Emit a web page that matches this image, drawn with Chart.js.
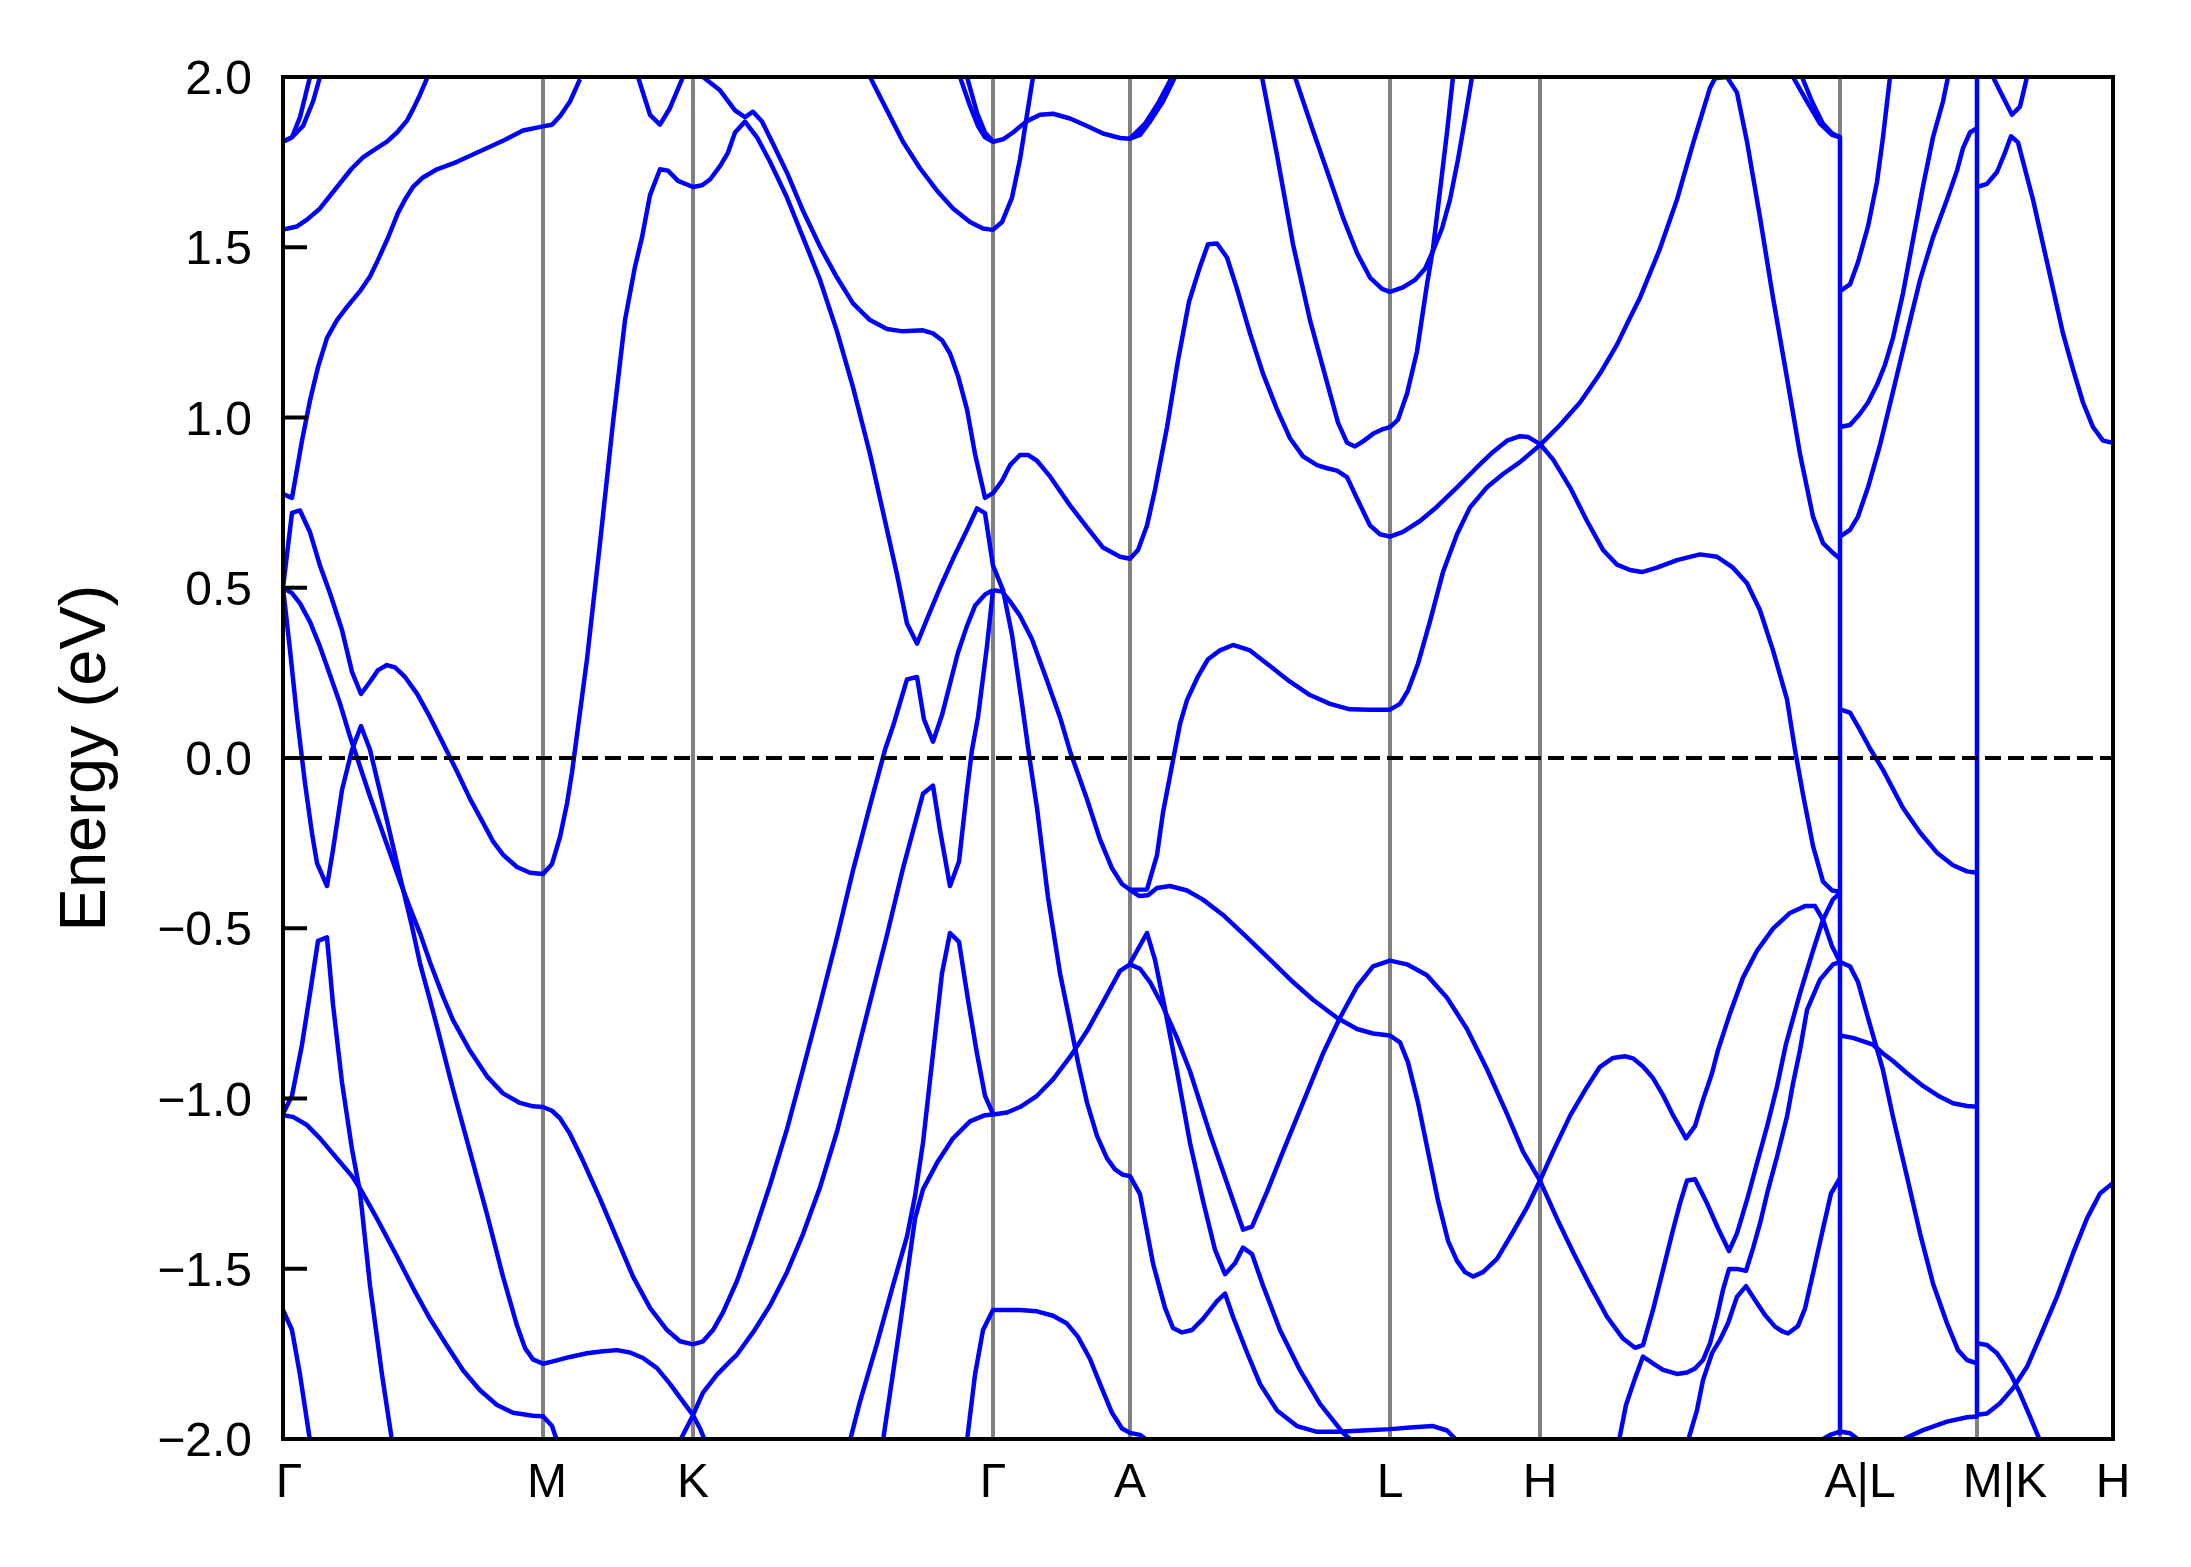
<!DOCTYPE html>
<html lang="en">
<head>
<meta charset="UTF-8">
<title>Band structure</title>
<style>
  html, body { margin: 0; padding: 0; background: #fff; }
  #wrap { width: 2191px; height: 1567px; }
</style>
<script src="https://cdn.jsdelivr.net/npm/chart.js"></script>
</head>
<body>
<div id="wrap"><canvas id="bands" width="2191" height="1567"></canvas></div>
<script>
// high-symmetry points along the k-path (path distance, arbitrary units)
const kTicks = [0, 260, 410, 710, 847, 1107, 1257, 1557, 1694, 1830];
const kLabels = ['Γ', 'M', 'K', 'Γ', 'A', 'L', 'H', 'A|L', 'M|K', 'H'];
const eTicks = [-2, -1.5, -1, -0.5, 0, 0.5, 1, 1.5, 2];

// bands, [k, E (eV)], grouped by the segment they start in
const bandsGM = [
  [[0,1.81],[9,1.823],[17,1.882],[27,2.0]],
  [[0,1.81],[9,1.823],[20,1.856],[30,1.928],[37,2.0]],
  [[0,1.552],[14,1.561],[24,1.581],[37,1.614],[54,1.677],[69,1.732],[80,1.764],[90,1.784],[104,1.81],[114,1.837],[124,1.872],[130,1.905],[137,1.948],[144,1.996]],
  [[0,0.775],[9,0.764],[19,0.932],[27,1.05],[35,1.148],[44,1.234],[54,1.286],[64,1.325],[77,1.371],[87,1.414],[95,1.463],[105,1.528],[115,1.601],[122,1.64],[130,1.677],[140,1.705],[154,1.729],[174,1.751],[197,1.782],[220,1.813],[240,1.843],[260,1.855],[269,1.86],[277,1.885],[287,1.928],[297,1.994]],
  [[0,0.5],[9,0.72],[17,0.727],[27,0.663],[37,0.565],[47,0.484],[59,0.376],[69,0.253],[78,0.188],[87,0.224],[95,0.258],[104,0.273],[112,0.266],[122,0.238],[134,0.189],[147,0.12],[160,0.043],[174,-0.04],[187,-0.12],[200,-0.19],[210,-0.245],[220,-0.284],[234,-0.32],[247,-0.337],[260,-0.341],[269,-0.311],[277,-0.232],[284,-0.134],[289,-0.042],[292,0.024],[304,0.29],[317,0.631],[330,0.985],[342,1.286],[352,1.443],[359,1.529],[367,1.653],[377,1.729],[385,1.725],[395,1.695],[410,1.677],[419,1.682],[427,1.699],[437,1.738],[445,1.778],[452,1.837],[462,1.869],[474,1.823],[487,1.751],[504,1.646],[520,1.529],[537,1.404],[554,1.253],[570,1.089],[587,0.893],[604,0.67],[614,0.539],[624,0.395],[634,0.336],[644,0.408],[657,0.5],[670,0.585],[684,0.67],[694,0.733],[702,0.719],[710,0.565],[720,0.493],[729,0.362],[739,0.159],[747,-0.01],[754,-0.147],[765,-0.409],[777,-0.632],[787,-0.776],[795,-0.894],[804,-1.012],[814,-1.11],[824,-1.176],[832,-1.208],[840,-1.224],[847,-1.228],[857,-1.281],[870,-1.484],[882,-1.615],[890,-1.674],[899,-1.687],[909,-1.68],[920,-1.647],[934,-1.595],[942,-1.573],[950,-1.641],[964,-1.746],[977,-1.838],[994,-1.916],[1014,-1.962],[1034,-1.979],[1054,-1.979],[1080,-1.975],[1107,-1.971],[1127,-1.966],[1150,-1.962],[1164,-1.975],[1174,-2.005]],
  [[0,0.5],[7,0.317],[14,0.121],[22,-0.074],[29,-0.221],[34,-0.309],[44,-0.376],[50,-0.27],[59,-0.094],[69,0.024],[78,0.094],[87,0.024],[95,-0.074],[107,-0.221],[117,-0.348],[129,-0.495],[137,-0.603],[147,-0.711],[154,-0.789],[170,-0.973],[187,-1.156],[204,-1.34],[220,-1.523],[234,-1.667],[242,-1.733],[250,-1.766],[260,-1.779],[270,-1.772],[287,-1.759],[304,-1.748],[320,-1.742],[334,-1.739],[347,-1.746],[360,-1.762],[374,-1.792],[387,-1.838],[400,-1.89],[410,-1.93],[417,-1.969],[422,-2.005]],
  [[0,0.5],[9,0.484],[17,0.454],[27,0.4],[37,0.327],[47,0.244],[57,0.16],[67,0.063],[77,-0.025],[87,-0.113],[97,-0.197],[107,-0.28],[117,-0.363],[127,-0.441],[137,-0.515],[147,-0.6],[160,-0.7],[170,-0.77],[187,-0.86],[204,-0.935],[220,-0.985],[237,-1.013],[250,-1.023],[260,-1.025],[269,-1.036],[277,-1.058],[287,-1.104],[300,-1.183],[317,-1.294],[334,-1.412],[350,-1.523],[367,-1.615],[384,-1.68],[397,-1.713],[410,-1.722],[420,-1.713],[430,-1.68],[440,-1.628],[454,-1.536],[470,-1.405],[487,-1.254],[504,-1.09],[520,-0.914],[537,-0.724],[554,-0.527],[570,-0.33],[587,-0.14],[602,0.024],[610,0.093],[624,0.231],[634,0.238],[641,0.113],[650,0.048],[659,0.126],[667,0.218],[675,0.31],[684,0.388],[692,0.447],[702,0.48],[710,0.493]],
  [[0,-1.045],[9,-0.992],[19,-0.842],[27,-0.691],[35,-0.537],[44,-0.527],[50,-0.724],[59,-0.953],[69,-1.149],[77,-1.274],[87,-1.549],[99,-1.811],[109,-2.005]],
  [[0,-1.049],[10,-1.054],[24,-1.078],[37,-1.117],[54,-1.176],[69,-1.228],[79,-1.274],[94,-1.353],[114,-1.464],[130,-1.556],[147,-1.647],[164,-1.726],[180,-1.798],[197,-1.857],[214,-1.9],[230,-1.923],[250,-1.932],[260,-1.933],[269,-1.962],[274,-2.005]],
  [[0,-1.621],[9,-1.68],[17,-1.811],[27,-2.005]]
];

const bandsKG = [
  [[397,-2.005],[410,-1.93],[420,-1.864],[434,-1.811],[447,-1.772],[454,-1.752],[470,-1.687],[487,-1.608],[504,-1.51],[520,-1.398],[537,-1.261],[554,-1.097],[570,-0.914],[587,-0.717],[604,-0.52],[620,-0.324],[640,-0.105],[650,-0.081],[657,-0.212],[667,-0.376],[676,-0.304],[684,-0.094],[689,0.024],[695,0.12],[704,0.329],[710,0.493]],
  [[355,2.0],[367,1.889],[377,1.86],[387,1.909],[400,2.0]],
  [[420,2.0],[437,1.961],[452,1.902],[462,1.882],[470,1.898],[479,1.869],[490,1.804],[504,1.719],[520,1.607],[537,1.502],[554,1.411],[570,1.335],[587,1.286],[604,1.26],[620,1.253],[640,1.256],[650,1.247],[659,1.227],[667,1.188],[675,1.122],[684,1.024],[692,0.893],[702,0.764],[710,0.778],[719,0.814],[727,0.86],[737,0.89],[745,0.89],[754,0.873],[767,0.827],[787,0.742],[804,0.677],[820,0.618],[837,0.591],[847,0.585],[855,0.611],[864,0.683],[872,0.788],[884,0.971],[895,1.168],[906,1.34],[917,1.443],[925,1.509],[934,1.511],[944,1.47],[954,1.378],[967,1.247],[980,1.129],[994,1.024],[1007,0.939],[1020,0.886],[1034,0.86],[1044,0.851],[1054,0.844],[1064,0.825],[1074,0.762],[1087,0.683],[1097,0.657],[1107,0.65],[1120,0.664],[1137,0.696],[1154,0.738],[1174,0.795],[1194,0.854],[1210,0.899],[1224,0.932],[1237,0.945],[1245,0.943],[1257,0.922],[1270,0.877],[1287,0.795],[1304,0.696],[1320,0.611],[1334,0.568],[1347,0.552],[1359,0.546],[1374,0.559],[1394,0.581],[1417,0.598],[1434,0.591],[1450,0.559],[1464,0.513],[1477,0.434],[1490,0.316],[1504,0.172],[1512,0.024],[1520,-0.107],[1530,-0.258],[1540,-0.363],[1549,-0.389],[1557,-0.393]],
  [[567,-2.005],[577,-1.89],[594,-1.72],[610,-1.549],[624,-1.405],[632,-1.287],[640,-1.13],[650,-0.868],[659,-0.632],[667,-0.514],[676,-0.54],[685,-0.71],[694,-0.868],[702,-0.992],[710,-1.045]],
  [[600,-2.005],[617,-1.667],[632,-1.353],[640,-1.267],[654,-1.189],[670,-1.117],[687,-1.067],[702,-1.049],[710,-1.047],[724,-1.041],[737,-1.025],[754,-0.992],[770,-0.944],[787,-0.878],[804,-0.802],[820,-0.717],[837,-0.625],[847,-0.606],[857,-0.619],[867,-0.658],[880,-0.73],[894,-0.822],[907,-0.92],[927,-1.104],[944,-1.248],[960,-1.385],[969,-1.376],[984,-1.274],[1000,-1.156],[1020,-1.012],[1040,-0.868],[1057,-0.763],[1074,-0.671],[1090,-0.612],[1107,-0.595],[1124,-0.606],[1144,-0.638],[1164,-0.704],[1184,-0.796],[1204,-0.914],[1224,-1.045],[1240,-1.156],[1257,-1.241],[1274,-1.353],[1290,-1.451],[1307,-1.549],[1324,-1.641],[1340,-1.705],[1352,-1.732],[1360,-1.724],[1370,-1.621],[1380,-1.504],[1390,-1.386],[1397,-1.308],[1404,-1.241],[1412,-1.237],[1424,-1.308],[1435,-1.381],[1446,-1.448],[1454,-1.396],[1464,-1.298],[1474,-1.19],[1484,-1.083],[1494,-0.965],[1503,-0.84],[1517,-0.691],[1530,-0.566],[1540,-0.475],[1550,-0.415],[1557,-0.396]],
  [[684,-2.005],[692,-1.811],[700,-1.68],[710,-1.621],[720,-1.621],[737,-1.621],[754,-1.625],[770,-1.638],[784,-1.661],[795,-1.7],[807,-1.765],[817,-1.838],[829,-1.923],[839,-1.969],[847,-1.982],[857,-1.988],[865,-2.005]],
  [[587,2.0],[604,1.902],[620,1.81],[637,1.732],[654,1.666],[670,1.614],[687,1.574],[700,1.555],[710,1.551],[719,1.574],[729,1.646],[737,1.758],[744,1.889],[750,2.0]],
  [[677,2.0],[687,1.915],[695,1.856],[702,1.823],[710,1.81],[720,1.817],[730,1.837],[743,1.869],[757,1.889],[770,1.892],[787,1.878],[804,1.856],[820,1.834],[837,1.821],[847,1.819],[857,1.83],[867,1.869],[880,1.928],[892,2.0]],
  [[684,2.0],[694,1.895],[702,1.837],[710,1.81]],
  [[847,1.819],[862,1.863],[875,1.922],[889,2.0]],
  [[710,0.493],[719,0.489],[727,0.46],[737,0.418],[749,0.349],[762,0.244],[777,0.12],[787,0.02],[804,-0.121],[817,-0.239],[829,-0.324],[839,-0.37],[847,-0.387],[856,-0.405],[865,-0.403],[874,-0.382],[887,-0.376],[904,-0.389],[920,-0.416],[940,-0.461],[964,-0.527],[987,-0.592],[1010,-0.658],[1030,-0.71],[1054,-0.763],[1074,-0.796],[1090,-0.809],[1107,-0.815],[1117,-0.835],[1125,-0.894],[1135,-1.012],[1145,-1.156],[1155,-1.3],[1165,-1.418],[1174,-1.477],[1182,-1.51],[1190,-1.523],[1200,-1.51],[1214,-1.471],[1230,-1.392],[1244,-1.32],[1257,-1.241],[1270,-1.156],[1287,-1.051],[1304,-0.966],[1317,-0.907],[1330,-0.881],[1342,-0.876],[1350,-0.882],[1360,-0.906],[1370,-0.94],[1380,-0.99],[1390,-1.049],[1403,-1.117],[1412,-1.081],[1420,-1.004],[1429,-0.926],[1435,-0.858],[1447,-0.75],[1460,-0.645],[1474,-0.566],[1490,-0.501],[1507,-0.455],[1522,-0.435],[1532,-0.435],[1540,-0.475],[1549,-0.553],[1557,-0.599]]
];

const bandsAL = [
  [[847,-0.387],[864,-0.386],[874,-0.285],[880,-0.16],[892,0.024],[897,0.1],[904,0.17],[915,0.24],[925,0.29],[937,0.316],[950,0.332],[967,0.316],[987,0.27],[1007,0.224],[1027,0.185],[1047,0.159],[1067,0.143],[1087,0.142],[1107,0.142],[1117,0.159],[1125,0.198],[1135,0.277],[1147,0.401],[1160,0.546],[1174,0.657],[1187,0.736],[1204,0.795],[1220,0.834],[1237,0.869],[1257,0.919],[1277,0.978],[1297,1.044],[1317,1.129],[1334,1.214],[1347,1.293],[1357,1.352],[1377,1.496],[1394,1.64],[1410,1.804],[1427,1.968],[1432,1.996],[1444,2.0],[1454,1.954],[1464,1.81],[1477,1.588],[1490,1.352],[1504,1.116],[1517,0.893],[1530,0.709],[1540,0.631],[1549,0.605],[1557,0.585]],
  [[847,-0.603],[864,-0.514],[872,-0.593],[882,-0.737],[894,-0.92],[907,-1.13],[920,-1.3],[932,-1.444],[942,-1.516],[952,-1.484],[960,-1.438],[969,-1.457],[980,-1.549],[997,-1.68],[1017,-1.798],[1037,-1.897],[1060,-1.982],[1069,-2.005]],
  [[979,2.0],[994,1.771],[1010,1.509],[1027,1.286],[1044,1.103],[1055,0.985],[1064,0.926],[1072,0.915],[1080,0.93],[1090,0.952],[1099,0.965],[1107,0.972],[1115,0.994],[1124,1.07],[1134,1.194],[1144,1.391],[1150,1.496],[1157,1.666],[1164,1.837],[1170,2.0]],
  [[1012,2.0],[1030,1.843],[1047,1.699],[1060,1.587],[1074,1.483],[1087,1.411],[1099,1.378],[1107,1.369],[1120,1.382],[1132,1.404],[1142,1.437],[1150,1.489],[1159,1.555],[1167,1.64],[1175,1.758],[1182,1.876],[1189,2.0]]
];

const bandsHA = [
  [[1336,-2.005],[1343,-1.9],[1352,-1.822],[1360,-1.758],[1370,-1.778],[1380,-1.797],[1394,-1.809],[1404,-1.805],[1412,-1.793],[1420,-1.768],[1427,-1.719],[1434,-1.641],[1440,-1.562],[1446,-1.501],[1455,-1.501],[1463,-1.506],[1470,-1.44],[1477,-1.367],[1485,-1.269],[1494,-1.171],[1504,-1.053],[1510,-0.956],[1517,-0.858],[1524,-0.74],[1537,-0.651],[1550,-0.606],[1557,-0.599]],
  [[1405,-2.005],[1414,-1.915],[1420,-1.827],[1429,-1.748],[1437,-1.709],[1445,-1.66],[1454,-1.582],[1463,-1.551],[1472,-1.592],[1482,-1.636],[1492,-1.67],[1500,-1.685],[1505,-1.69],[1515,-1.668],[1522,-1.617],[1530,-1.514],[1539,-1.396],[1548,-1.279],[1557,-1.234]],
  [[1537,-2.005],[1548,-1.987],[1557,-1.978],[1567,-1.983],[1577,-2.005]],
  [[1510,2.0],[1524,1.928],[1537,1.863],[1549,1.83],[1557,1.823]],
  [[1519,2.0],[1529,1.928],[1540,1.863],[1549,1.835],[1557,1.823]]
];

const bandsLM = [
  [[1557,1.371],[1567,1.391],[1575,1.456],[1585,1.561],[1594,1.692],[1600,1.823],[1607,2.0]],
  [[1557,0.972],[1567,0.978],[1577,1.011],[1585,1.044],[1594,1.096],[1602,1.155],[1610,1.234],[1620,1.365],[1630,1.522],[1640,1.679],[1650,1.823],[1660,1.928],[1665,2.0]],
  [[1557,0.65],[1567,0.67],[1575,0.709],[1585,0.795],[1597,0.919],[1610,1.076],[1624,1.247],[1637,1.404],[1650,1.529],[1664,1.64],[1674,1.725],[1680,1.791],[1687,1.837],[1694,1.85]],
  [[1557,0.143],[1567,0.133],[1575,0.093],[1587,0.028],[1600,-0.035],[1620,-0.147],[1637,-0.219],[1654,-0.278],[1670,-0.315],[1684,-0.333],[1694,-0.337]],
  [[1557,-0.815],[1570,-0.822],[1590,-0.842],[1600,-0.868],[1610,-0.89],[1624,-0.926],[1640,-0.963],[1657,-0.995],[1670,-1.014],[1684,-1.022],[1694,-1.024]],
  [[1557,-0.599],[1567,-0.612],[1575,-0.658],[1585,-0.763],[1594,-0.855],[1600,-0.917],[1610,-1.054],[1624,-1.23],[1637,-1.396],[1650,-1.543],[1664,-1.66],[1675,-1.739],[1684,-1.768],[1694,-1.778]],
  [[1617,-2.005],[1640,-1.974],[1664,-1.949],[1684,-1.936],[1694,-1.934]]
];

const bandsKH = [
  [[1694,1.677],[1704,1.686],[1714,1.721],[1722,1.778],[1728,1.826],[1735,1.808],[1750,1.64],[1760,1.509],[1770,1.378],[1780,1.247],[1790,1.142],[1800,1.044],[1810,0.972],[1820,0.932],[1830,0.926]],
  [[1710,2.0],[1720,1.941],[1729,1.889],[1737,1.913],[1744,2.0]],
  [[1694,-1.719],[1704,-1.724],[1714,-1.748],[1722,-1.783],[1729,-1.817],[1737,-1.866],[1747,-1.934],[1757,-2.005]],
  [[1694,-1.929],[1704,-1.925],[1717,-1.895],[1730,-1.851],[1744,-1.788],[1757,-1.7],[1774,-1.582],[1790,-1.455],[1804,-1.352],[1817,-1.279],[1830,-1.248]]
];

// the plot joins the bands straight across the A|L and M|K breaks
const jumps = [
  [[1557,1.823],[1557,-1.983]],
  [[1694,2.0],[1694,-1.934]]
];

const fermi = [[0,0],[1830,0]];

const FONT = '"Liberation Sans", Arial, Helvetica, sans-serif';
const toXY = pts => pts.map(p => ({x: p[0], y: p[1]}));

const bandSets = [].concat(jumps, bandsGM, bandsKG, bandsAL, bandsHA, bandsLM, bandsKH).map(pts => ({
  data: toXY(pts),
  showLine: true,
  borderColor: '#0000ff',
  borderWidth: 4.5,
  borderJoinStyle: 'round',
  pointRadius: 0,
  tension: 0,
  fill: false
}));

const datasets = [{
  data: toXY(fermi),
  showLine: true,
  borderColor: '#000',
  borderWidth: 4,
  borderDash: [16, 7],
  pointRadius: 0
}].concat(bandSets);

// frame, inward y ticks and the k-point labels
const labelNudge = [6, 4, 0, 0, 0, 0, 0, 20, 28, 0];
const framePlugin = {
  id: 'framePlugin',
  afterDraw(chart) {
    const {ctx, chartArea: a, scales} = chart;
    ctx.save();
    ctx.strokeStyle = '#000';
    ctx.lineWidth = 4;
    eTicks.forEach(e => {
      const py = scales.y.getPixelForValue(e);
      ctx.beginPath();
      ctx.moveTo(a.left, py);
      ctx.lineTo(a.left + 24, py);
      ctx.stroke();
    });
    ctx.strokeRect(a.left, a.top, a.right - a.left, a.bottom - a.top);
    ctx.fillStyle = '#000';
    ctx.font = '48px ' + FONT;
    ctx.textAlign = 'center';
    ctx.textBaseline = 'alphabetic';
    kTicks.forEach((k, i) => {
      ctx.fillText(kLabels[i], scales.x.getPixelForValue(k) + labelNudge[i], a.bottom + 58);
    });
    ctx.restore();
  }
};

new Chart(document.getElementById('bands'), {
  type: 'scatter',
  data: {datasets: datasets},
  options: {
    responsive: false,
    animation: false,
    devicePixelRatio: 1,
    layout: {padding: {left: 0, right: 78, top: 77, bottom: 0}},
    plugins: {legend: {display: false}, tooltip: {enabled: false}},
    scales: {
      x: {
        type: 'linear',
        min: 0,
        max: 1830,
        afterBuildTicks: s => { s.ticks = kTicks.map(v => ({value: v})); },
        afterFit: s => { s.height = 128; },
        ticks: {display: false},
        border: {display: false},
        grid: {color: '#808080', lineWidth: 4, drawTicks: false}
      },
      y: {
        min: -2,
        max: 2,
        afterBuildTicks: s => { s.ticks = eTicks.map(v => ({value: v})); },
        afterFit: s => { s.width = 283; },
        border: {display: false},
        grid: {display: false, drawTicks: false},
        ticks: {
          color: '#000',
          font: {family: FONT, size: 48},
          padding: 31,
          labelOffset: 4,
          callback: v => (v < 0 ? '\u2212' : '') + Math.abs(v).toFixed(1)
        },
        title: {
          display: true,
          text: 'Energy (eV)',
          color: '#000',
          font: {family: FONT, size: 65},
          padding: {top: 48, bottom: 0}
        }
      }
    }
  },
  plugins: [framePlugin]
});
</script>
</body>
</html>
